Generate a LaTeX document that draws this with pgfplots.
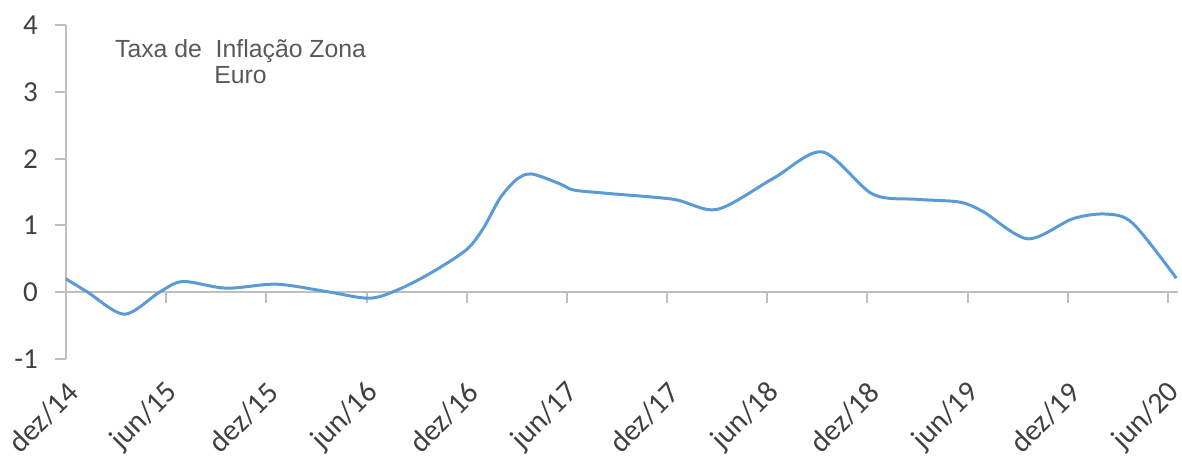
\documentclass[border=0pt]{standalone}
\usepackage{pgfplots}
\pgfplotsset{compat=1.18}
\usepackage{fontspec}
\setmainfont{Carlito}
\newfontfamily\arialf{Liberation Sans}
\definecolor{linecol}{RGB}{91,155,213}
\definecolor{axcol}{RGB}{191,191,191}
\definecolor{txtcol}{RGB}{64,64,64}
\definecolor{ttlcol}{RGB}{89,89,89}
\pgfplotstableread{
x y
0 0.20
1.3 0.00
3.5 -0.33
5.6 0.00
7 0.16
9.6 0.06
12.6 0.12
15.6 0.01
18.2 -0.09
20.0 0.05
22.0 0.31
24.0 0.64
25.0 0.96
26.0 1.41
27.0 1.69
27.9 1.77
29.6 1.62
30.4 1.53
32.4 1.48
36.4 1.39
39 1.24
42.4 1.71
45.3 2.10
48.3 1.47
51 1.39
53.5 1.35
54.9 1.21
57.6 0.80
60.3 1.10
62.3 1.17
63.9 1.03
66.5 0.21
}\infl
\begin{document}
\begin{tikzpicture}
\begin{axis}[
  scale only axis, width=556pt, height=167pt,
  xmin=0, xmax=66.6, ymin=-1, ymax=4,
  axis x line*=middle, axis y line*=left,
  hide obscured x ticks=false, hide obscured y ticks=false,
  axis line style={axcol, line width=1pt},
  every tick/.style={axcol, line width=1pt},
  tick align=outside, major tick length=5.5pt,
  xtick={0,6,...,66},
  xticklabels={dez/14,jun/15,dez/15,jun/16,dez/16,jun/17,dez/17,jun/18,dez/18,jun/19,dez/19,jun/20},
  ytick={-1,0,1,2,3,4},
  yticklabels={-1,0,1,2,3,4},
  xticklabel style={font=\fontsize{15}{17}\selectfont, text=txtcol, xshift=6pt, yshift=-40pt, rotate=45, anchor=east},
  yticklabel style={font=\fontsize{14.5}{16}\selectfont, text=txtcol, anchor=east, xshift=-5pt},
  clip=false,
]
\addplot[linecol, line width=1.5pt, smooth, tension=0.5] table[x=x,y=y] {\infl};
\node[align=center, font=\arialf\fontsize{12.4}{13}\selectfont, text=ttlcol] at (rel axis cs:0.157,0.891) {Taxa de\ \ Inflação Zona\\Euro};
\end{axis}
\pgfresetboundingbox
\path[use as bounding box] ([shift={(-33pt,-49pt)}]current axis.south west) rectangle ++(591pt,228.5pt);
\end{tikzpicture}
\end{document}
